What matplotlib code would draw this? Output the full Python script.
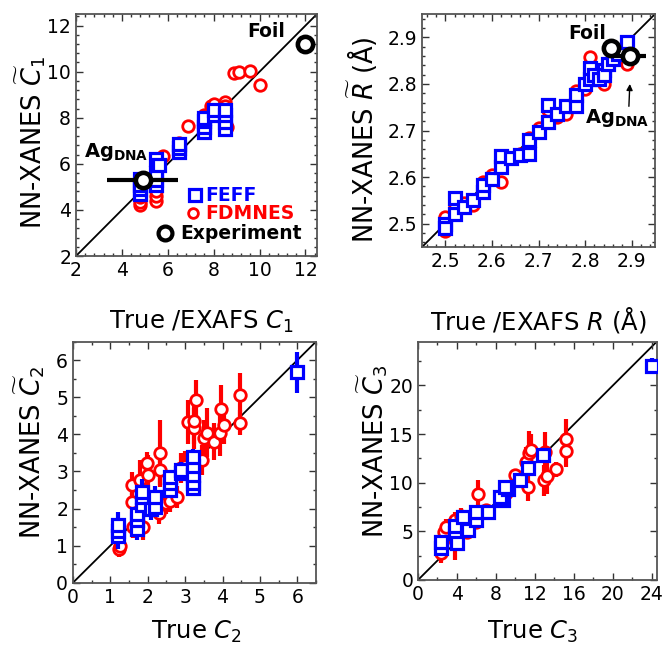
import matplotlib
matplotlib.use("Agg")
import matplotlib.pyplot as plt
from matplotlib.ticker import MultipleLocator

plt.rcParams['font.family'] = ['DejaVu Sans']
plt.rcParams['mathtext.fontset'] = 'dejavusans'

# ---------------- data ----------------
# Panel 1: C1
feff_c1_true = [4.8, 4.8, 4.8, 4.8, 5.5, 5.5, 5.5, 5.5, 5.6, 6.5, 6.5, 6.5,
                7.6, 7.6, 7.6, 7.6, 8.0, 8.0, 8.5, 8.5, 8.5, 8.5]
feff_c1_pred = [4.7, 4.9, 5.1, 5.35, 5.1, 5.3, 5.6, 6.2, 5.95, 6.5, 6.7, 6.85,
                7.4, 7.6, 7.85, 8.0, 8.1, 8.35, 7.5, 7.8, 8.1, 8.35]
fdmnes_c1_true = [4.8, 4.8, 4.8, 5.5, 5.5, 5.5, 5.8, 6.5, 6.9, 7.6, 7.9, 8.0,
                  8.5, 8.5, 8.6, 8.9, 9.1, 9.6, 10.0]
fdmnes_c1_pred = [4.2, 4.35, 4.55, 4.4, 4.6, 4.8, 6.35, 6.9, 7.65, 8.1, 8.5, 8.6,
                  8.7, 8.5, 7.6, 9.95, 10.0, 10.05, 9.4]
exp_c1_true = [4.9, 12.0]
exp_c1_pred = [5.3, 11.2]
exp_c1_xerr = [1.55, 0.0]

# Panel 2: R
feff_r_true = [2.50, 2.50, 2.52, 2.52, 2.54, 2.56, 2.58, 2.58, 2.60, 2.62, 2.62,
               2.64, 2.66, 2.68, 2.68, 2.70, 2.72, 2.72, 2.74, 2.76, 2.78, 2.78,
               2.80, 2.81, 2.81, 2.82, 2.83, 2.84, 2.84, 2.85, 2.86, 2.87, 2.89]
feff_r_pred = [2.50, 2.49, 2.52, 2.555, 2.536, 2.55, 2.568, 2.583, 2.597, 2.622,
               2.645, 2.64, 2.647, 2.649, 2.679, 2.697, 2.718, 2.755, 2.736, 2.752,
               2.752, 2.776, 2.80, 2.81, 2.835, 2.82, 2.81, 2.83, 2.82, 2.843,
               2.854, 2.865, 2.89]
fdmnes_r_true = [2.50, 2.50, 2.52, 2.54, 2.56, 2.58, 2.60, 2.62, 2.62, 2.66, 2.68,
                 2.70, 2.72, 2.74, 2.76, 2.78, 2.80, 2.81, 2.84, 2.86, 2.89]
fdmnes_r_pred = [2.485, 2.515, 2.54, 2.545, 2.54, 2.59, 2.605, 2.59, 2.63, 2.65,
                 2.685, 2.705, 2.745, 2.73, 2.735, 2.785, 2.79, 2.858, 2.80, 2.87,
                 2.843]
exp_r_true = [2.856, 2.896]
exp_r_pred = [2.878, 2.860]
exp_r_xerr = [0.0, 0.035]

# Panel 3: C2
feff_c2_true = [1.2, 1.2, 1.2, 1.7, 1.7, 1.7, 1.85, 1.85, 1.85, 2.1, 2.2, 2.2,
                2.6, 2.6, 2.6, 2.9, 2.9, 3.2, 3.2, 3.2, 3.2, 3.2, 6.0]
feff_c2_pred = [1.25, 1.4, 1.55, 1.45, 1.7, 1.85, 2.1, 2.3, 2.45, 2.0, 2.05, 2.3,
                2.5, 2.68, 2.85, 2.95, 3.05, 2.55, 2.7, 2.9, 3.15, 3.4, 5.67]
feff_c2_err = [0.35, 0.3, 0.35, 0.3, 0.3, 0.3, 0.4, 0.35, 0.35, 0.3, 0.25, 0.3,
               0.2, 0.2, 0.2, 0.2, 0.2, 0.15, 0.15, 0.2, 0.2, 0.2, 0.55]
fdmnes_c2_true = [1.22, 1.25, 1.57, 1.57, 1.6, 1.78, 1.85, 1.88, 1.98, 2.0, 2.33,
                  2.33, 2.31, 2.5, 2.6, 2.78, 2.9, 3.0, 3.09, 3.3, 3.23, 3.23,
                  3.45, 3.51, 3.59, 3.76, 3.93, 3.96, 4.05, 4.46, 4.46]
fdmnes_c2_pred = [0.92, 1.0, 2.18, 2.63, 1.5, 2.77, 2.3, 1.5, 3.22, 2.9, 3.49,
                  3.04, 1.87, 2.15, 2.2, 2.32, 3.1, 3.15, 4.34, 4.93, 4.16, 4.35,
                  3.31, 3.9, 4.05, 3.8, 4.03, 4.68, 4.25, 5.06, 4.32]
fdmnes_c2_err = [0.22, 0.2, 0.3, 0.35, 0.3, 0.55, 0.5, 0.35, 0.3, 0.55, 0.9,
                 0.4, 0.3, 0.3, 0.3, 0.3, 0.4, 0.4, 0.6, 0.55, 0.55, 0.6,
                 0.4, 0.5, 0.65, 0.5, 0.6, 0.65, 0.5, 0.6, 0.35]

# Panel 4: C3
feff_c3_true = [2.4, 2.4, 3.75, 4.0, 3.75, 4.6, 5.1, 6.0, 6.0, 7.2, 8.7, 8.4,
                9.2, 8.9, 10.5, 11.3, 12.8, 24.0]
feff_c3_pred = [3.25, 3.9, 4.8, 3.85, 5.5, 6.5, 5.1, 6.15, 7.0, 7.0, 8.2, 8.55,
                9.4, 9.6, 10.3, 11.5, 12.85, 22.0]
feff_c3_err = [0.6, 0.6, 0.6, 0.5, 0.6, 0.7, 0.5, 0.5, 0.5, 0.5, 0.5, 0.5,
               0.5, 0.5, 0.5, 0.5, 0.6, 0.8]
fdmnes_c3_true = [2.4, 2.4, 2.7, 2.9, 3.75, 3.75, 4.4, 5.0, 6.0, 6.14, 7.0, 8.5,
                  9.0, 10.0, 11.1, 11.26, 11.43, 11.6, 12.97, 13.0, 13.24, 14.16,
                  15.19, 15.19]
fdmnes_c3_pred = [2.74, 3.3, 4.97, 5.48, 4.1, 6.2, 6.6, 4.9, 6.0, 8.84, 7.2, 8.2,
                  8.9, 10.8, 12.16, 9.59, 13.08, 13.4, 10.27, 13.18, 10.68, 11.37,
                  14.49, 13.25]
fdmnes_c3_err = [1.0, 0.8, 0.8, 0.8, 2.0, 0.8, 0.8, 0.6, 0.6, 1.4, 0.6, 0.6,
                 0.6, 0.6, 1.5, 1.5, 2.2, 1.6, 1.6, 2.0, 1.8, 0.8, 2.1, 1.6]

BLUE = '#0000ff'
RED = '#ff0000'

SQ_MS, SQ_MEW = 8.2, 2.3
CI_MS, CI_MEW = 8.3, 2.0
EX_MS, EX_MEW = 11, 3.3

fig = plt.figure(figsize=(6.67, 6.47), dpi=100)
ax1 = fig.add_axes([0.1139, 0.6043, 0.3613, 0.374])
ax2 = fig.add_axes([0.6327, 0.6182, 0.3493, 0.3601])
ax3 = fig.add_axes([0.1094, 0.0994, 0.3643, 0.3725])
ax4 = fig.add_axes([0.6267, 0.1036, 0.3579, 0.3683])

TICK_FS = 13.5
LABEL_FS = 18.5
XL_FS = 17.5


def style(ax, lo, hi, major, minor):
    ax.set_xlim(lo, hi)
    ax.set_ylim(lo, hi)
    ax.plot([lo, hi], [lo, hi], color='black', lw=1.3, zorder=1)
    ax.xaxis.set_major_locator(MultipleLocator(major))
    ax.yaxis.set_major_locator(MultipleLocator(major))
    ax.xaxis.set_minor_locator(MultipleLocator(minor))
    ax.yaxis.set_minor_locator(MultipleLocator(minor))
    ax.tick_params(which='both', direction='in', top=True, right=True,
                   labelsize=TICK_FS, color='#333333', width=1.0)
    ax.tick_params(which='major', length=5)
    ax.tick_params(which='minor', length=2.5)
    for s in ax.spines.values():
        s.set_color('#555555')
        s.set_linewidth(1.3)


def place_labels(ax, xl, xpos, ypos_x, yl, xpos_y, ypos_y):
    ax.set_xlabel(xl, fontsize=XL_FS)
    ax.xaxis.label.set_va('baseline')
    ax.xaxis.set_label_coords(xpos, ypos_x)
    ax.set_ylabel(yl, fontsize=LABEL_FS)
    ax.yaxis.label.set_va('center')
    ax.yaxis.set_label_coords(xpos_y, ypos_y)


# ---------- panel 1 ----------
style(ax1, 2, 12.5, 2, 0.4)
ax1.plot(fdmnes_c1_true, fdmnes_c1_pred, 'o', ms=CI_MS, mfc='white', mec=RED,
         mew=CI_MEW, zorder=3)
ax1.plot(feff_c1_true, feff_c1_pred, 's', ms=SQ_MS, mfc='white', mec=BLUE,
         mew=SQ_MEW, zorder=4)
ax1.errorbar(exp_c1_true, exp_c1_pred, xerr=exp_c1_xerr, fmt='o', ms=EX_MS,
             mfc='white', mec='black', mew=EX_MEW, ecolor='black', elinewidth=3,
             capsize=0, zorder=6)
ax1.set_xticks([2, 4, 6, 8, 10, 12])
ax1.set_yticks([2, 4, 6, 8, 10, 12])
place_labels(ax1, r'True /EXAFS $C_1$', 0.52, -0.30,
             r'NN-XANES $\widetilde{C}_1$', -0.19, 0.47)
ax1.text(0.791, 0.927, 'Foil', transform=ax1.transAxes, fontsize=13.5,
         fontweight='bold', ha='center', va='center')
ax1.text(0.166, 0.43, r'$\mathbf{Ag_{DNA}}$', transform=ax1.transAxes,
         fontsize=14, ha='center', va='center')
# legend
ax1.plot([0.494], [0.252], 's', transform=ax1.transAxes, ms=SQ_MS, mfc='white',
         mec=BLUE, mew=SQ_MEW, clip_on=False, zorder=7)
ax1.text(0.535, 0.252, 'FEFF', transform=ax1.transAxes, color=BLUE,
         fontsize=13.5, fontweight='bold', va='center')
ax1.plot([0.484], [0.176], 'o', transform=ax1.transAxes, ms=7, mfc='white',
         mec=RED, mew=CI_MEW, clip_on=False, zorder=7)
ax1.text(0.535, 0.176, 'FDMNES', transform=ax1.transAxes, color=RED,
         fontsize=13.5, fontweight='bold', va='center')
ax1.plot([0.369], [0.094], 'o', transform=ax1.transAxes, ms=10, mfc='white',
         mec='black', mew=3.0, clip_on=False, zorder=7)
ax1.text(0.432, 0.094, 'Experiment', transform=ax1.transAxes, color='black',
         fontsize=13.5, fontweight='bold', va='center')

# ---------- panel 2 ----------
style(ax2, 2.45, 2.95, 0.1, 0.02)
ax2.plot(fdmnes_r_true, fdmnes_r_pred, 'o', ms=CI_MS, mfc='white', mec=RED,
         mew=CI_MEW, zorder=3)
ax2.plot(feff_r_true, feff_r_pred, 's', ms=SQ_MS, mfc='white', mec=BLUE,
         mew=SQ_MEW, zorder=4)
ax2.errorbar(exp_r_true, exp_r_pred, xerr=exp_r_xerr, fmt='o', ms=EX_MS,
             mfc='white', mec='black', mew=EX_MEW, ecolor='black', elinewidth=3,
             capsize=0, zorder=6)
ax2.set_xticks([2.5, 2.6, 2.7, 2.8, 2.9])
ax2.set_yticks([2.5, 2.6, 2.7, 2.8, 2.9])
place_labels(ax2, r'True /EXAFS $R$ (Å)', 0.50, -0.352,
             r'NN-XANES $\widetilde{R}$ (Å)', -0.255, 0.46)
ax2.text(0.707, 0.917, 'Foil', transform=ax2.transAxes, fontsize=13.5,
         fontweight='bold', ha='center', va='center', zorder=8)
ax2.text(0.836, 0.552, r'$\mathbf{Ag_{DNA}}$', transform=ax2.transAxes,
         fontsize=14, ha='center', va='center')
ax2.annotate('', xy=(2.896, 2.80), xytext=(2.894, 2.752),
             arrowprops=dict(arrowstyle='-|>', color='black', lw=1.0,
                             mutation_scale=9, shrinkA=0, shrinkB=0))

# ---------- panel 3 ----------
style(ax3, 0, 6.5, 1, 0.5)
ax3.errorbar(fdmnes_c2_true, fdmnes_c2_pred, yerr=fdmnes_c2_err, fmt='o',
             ms=CI_MS, mfc='white', mec=RED, mew=CI_MEW, ecolor=RED,
             elinewidth=3, capsize=0, zorder=3)
ax3.errorbar(feff_c2_true, feff_c2_pred, yerr=feff_c2_err, fmt='s',
             ms=SQ_MS, mfc='white', mec=BLUE, mew=SQ_MEW, ecolor=BLUE,
             elinewidth=3, capsize=0, zorder=4)
ax3.set_xticks(range(0, 7))
ax3.set_yticks(range(0, 7))
place_labels(ax3, r'True $C_2$', 0.51, -0.232,
             r'NN-XANES $\widetilde{C}_2$', -0.18, 0.54)

# ---------- panel 4 ----------
style(ax4, 0, 24.5, 4, 2)
ax4.yaxis.set_major_locator(MultipleLocator(5))
ax4.yaxis.set_minor_locator(MultipleLocator(2.5))
ax4.errorbar(fdmnes_c3_true, fdmnes_c3_pred, yerr=fdmnes_c3_err, fmt='o',
             ms=CI_MS, mfc='white', mec=RED, mew=CI_MEW, ecolor=RED,
             elinewidth=3, capsize=0, zorder=3)
ax4.errorbar(feff_c3_true, feff_c3_pred, yerr=feff_c3_err, fmt='s',
             ms=SQ_MS, mfc='white', mec=BLUE, mew=SQ_MEW, ecolor=BLUE,
             elinewidth=3, capsize=0, zorder=4)
place_labels(ax4, r'True $C_3$', 0.48, -0.247,
             r'NN-XANES $\widetilde{C}_3$', -0.19, 0.54)

fig.savefig('out.png', dpi=100)
